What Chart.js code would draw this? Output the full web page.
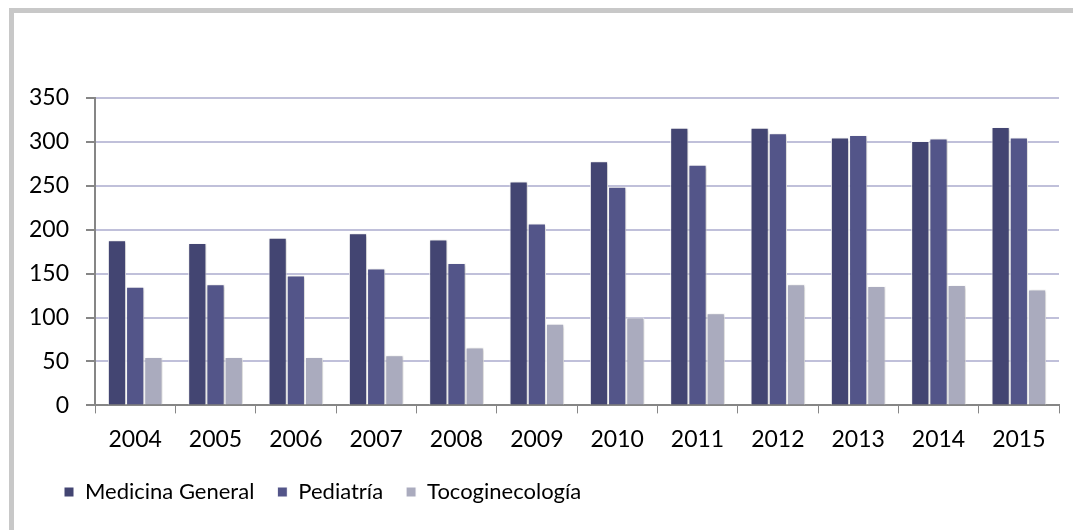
<!DOCTYPE html>
<html lang="es">
<head>
    <meta charset="UTF-8">
    <title>Consultas por especialidad</title>
    <script src="https://cdn.jsdelivr.net/npm/chart.js"></script>
    <style>
        html, body { margin: 0; padding: 0; background: #fff; }
        #frame {
            position: absolute; left: 9px; top: 8px; width: 1080px; height: 540px;
            border-left: 5px solid #c8c8c8; border-top: 5px solid #c8c8c8;
        }
        #wrap { position: absolute; left: 0; top: 0; width: 1073px; height: 530px; }
    </style>
</head>
<body>
<div id="frame"></div>
<div id="wrap"><canvas id="barChart"></canvas></div>

<script>
    const years = ['2004', '2005', '2006', '2007', '2008', '2009', '2010', '2011', '2012', '2013', '2014', '2015'];
    const medicinaGeneral = [188, 185, 191, 196, 189, 255, 278, 316, 316, 305, 301, 317];
    const pediatria = [135, 138, 148, 156, 162, 207, 249, 274, 310, 308, 304, 305];
    const tocoginecologia = [55, 55, 55, 57, 66, 93, 100, 105, 138, 136, 137, 132];

    const fontFamily = 'Lato, "Open Sans", sans-serif';

    // sombra suave detrás de las barras
    const barShadow = {
        id: 'barShadow',
        beforeDatasetsDraw(chart) {
            const c = chart.ctx;
            c.save();
            c.shadowColor = 'rgba(0,0,0,0.28)';
            c.shadowBlur = 3;
            c.shadowOffsetX = 1;
            c.shadowOffsetY = 1;
        },
        afterDatasetsDraw(chart) {
            chart.ctx.restore();
        }
    };

    // mover la leyenda un poco a la derecha, como en el original
    const legendShift = {
        id: 'legendShift',
        beforeDraw(chart) {
            const lg = chart.legend;
            if (lg && !lg._shifted) {
                lg.left += 29;
                lg.right += 29;
                lg._shifted = true;
            }
        },
        afterLayout(chart) {
            if (chart.legend) chart.legend._shifted = false;
        }
    };

    const ctx = document.getElementById('barChart').getContext('2d');
    new Chart(ctx, {
        type: 'bar',
        data: {
            labels: years,
            datasets: [{
                label: 'Medicina General',
                data: medicinaGeneral,
                backgroundColor: '#434572',
                borderColor: '#ffffff',
                borderWidth: 1
            }, {
                label: 'Pediatría',
                data: pediatria,
                backgroundColor: '#535589',
                borderColor: '#ffffff',
                borderWidth: 1
            }, {
                label: 'Tocoginecología',
                data: tocoginecologia,
                backgroundColor: '#aaabbe',
                borderColor: '#ffffff',
                borderWidth: 1
            }]
        },
        plugins: [barShadow, legendShift],
        options: {
            responsive: true,
            maintainAspectRatio: false,
            animation: false,
            datasets: {
                bar: { categoryPercentage: 0.68, barPercentage: 1 }
            },
            layout: {
                padding: { left: 12, right: 14, top: 98, bottom: 17 }
            },
            plugins: {
                tooltip: { enabled: false },
                legend: {
                    position: 'bottom',
                    align: 'start',
                    labels: {
                        boxWidth: 10,
                        boxHeight: 10,
                        padding: 23,
                        color: '#000',
                        font: { family: fontFamily, size: 22 }
                    }
                }
            },
            scales: {
                x: {
                    afterFit(scale) { scale.height -= 7; },
                    grid: {
                        offset: true,
                        drawOnChartArea: false,
                        tickLength: 8,
                        tickColor: '#868686'
                    },
                    border: { color: '#868686', width: 2 },
                    ticks: {
                        color: '#000',
                        padding: 12,
                        font: { family: fontFamily, size: 23 }
                    }
                },
                y: {
                    min: 0,
                    max: 350,
                    ticks: {
                        stepSize: 50,
                        color: '#000',
                        padding: 17,
                        font: { family: fontFamily, size: 23 }
                    },
                    grid: {
                        color: '#c0c0da',
                        lineWidth: 2,
                        tickLength: 9,
                        tickColor: '#868686'
                    },
                    border: { color: '#868686', width: 2 }
                }
            }
        }
    });
</script>
</body>
</html>
